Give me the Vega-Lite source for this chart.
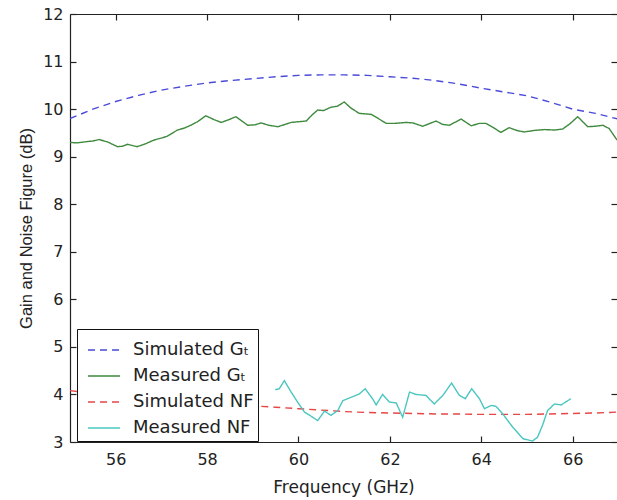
{
  "$schema": "https://vega.github.io/schema/vega-lite/v6.json",
  "width": 547,
  "height": 428,
  "autosize": {"type": "none"},
  "padding": {"left": 70, "top": 14, "right": 0, "bottom": 58},
  "background": "white",
  "config": {
    "view": {"stroke": null},
    "axis": {
      "grid": false,
      "domainColor": "#222222",
      "domainWidth": 1.2,
      "tickColor": "#222222",
      "tickWidth": 1.2,
      "labelColor": "#222222",
      "titleColor": "#222222",
      "titleFontWeight": "normal",
      "labelFont": "DejaVu Sans",
      "labelFontSize": 16
    }
  },
  "data": {
    "values": [
      {"f": 55.0, "v": 9.80, "s": "Simulated Gₜ"},
      {"f": 55.5, "v": 10.00, "s": "Simulated Gₜ"},
      {"f": 56.0, "v": 10.16, "s": "Simulated Gₜ"},
      {"f": 56.5, "v": 10.29, "s": "Simulated Gₜ"},
      {"f": 57.0, "v": 10.40, "s": "Simulated Gₜ"},
      {"f": 57.5, "v": 10.48, "s": "Simulated Gₜ"},
      {"f": 58.0, "v": 10.55, "s": "Simulated Gₜ"},
      {"f": 58.5, "v": 10.60, "s": "Simulated Gₜ"},
      {"f": 59.0, "v": 10.64, "s": "Simulated Gₜ"},
      {"f": 59.5, "v": 10.68, "s": "Simulated Gₜ"},
      {"f": 60.0, "v": 10.71, "s": "Simulated Gₜ"},
      {"f": 60.5, "v": 10.72, "s": "Simulated Gₜ"},
      {"f": 61.0, "v": 10.72, "s": "Simulated Gₜ"},
      {"f": 61.5, "v": 10.71, "s": "Simulated Gₜ"},
      {"f": 62.0, "v": 10.68, "s": "Simulated Gₜ"},
      {"f": 62.5, "v": 10.65, "s": "Simulated Gₜ"},
      {"f": 63.0, "v": 10.60, "s": "Simulated Gₜ"},
      {"f": 63.5, "v": 10.53, "s": "Simulated Gₜ"},
      {"f": 64.0, "v": 10.44, "s": "Simulated Gₜ"},
      {"f": 64.5, "v": 10.36, "s": "Simulated Gₜ"},
      {"f": 65.0, "v": 10.28, "s": "Simulated Gₜ"},
      {"f": 65.5, "v": 10.15, "s": "Simulated Gₜ"},
      {"f": 66.0, "v": 10.00, "s": "Simulated Gₜ"},
      {"f": 66.5, "v": 9.91, "s": "Simulated Gₜ"},
      {"f": 67.0, "v": 9.79, "s": "Simulated Gₜ"},

      {"f": 55.0, "v": 9.30, "s": "Measured Gₜ"},
      {"f": 55.15, "v": 9.29, "s": "Measured Gₜ"},
      {"f": 55.31, "v": 9.31, "s": "Measured Gₜ"},
      {"f": 55.5, "v": 9.33, "s": "Measured Gₜ"},
      {"f": 55.64, "v": 9.36, "s": "Measured Gₜ"},
      {"f": 55.82, "v": 9.31, "s": "Measured Gₜ"},
      {"f": 56.04, "v": 9.21, "s": "Measured Gₜ"},
      {"f": 56.15, "v": 9.22, "s": "Measured Gₜ"},
      {"f": 56.26, "v": 9.26, "s": "Measured Gₜ"},
      {"f": 56.47, "v": 9.21, "s": "Measured Gₜ"},
      {"f": 56.65, "v": 9.27, "s": "Measured Gₜ"},
      {"f": 56.84, "v": 9.35, "s": "Measured Gₜ"},
      {"f": 57.0, "v": 9.39, "s": "Measured Gₜ"},
      {"f": 57.13, "v": 9.43, "s": "Measured Gₜ"},
      {"f": 57.35, "v": 9.56, "s": "Measured Gₜ"},
      {"f": 57.5, "v": 9.60, "s": "Measured Gₜ"},
      {"f": 57.64, "v": 9.66, "s": "Measured Gₜ"},
      {"f": 57.8, "v": 9.74, "s": "Measured Gₜ"},
      {"f": 57.97, "v": 9.86, "s": "Measured Gₜ"},
      {"f": 58.15, "v": 9.78, "s": "Measured Gₜ"},
      {"f": 58.31, "v": 9.72, "s": "Measured Gₜ"},
      {"f": 58.48, "v": 9.78, "s": "Measured Gₜ"},
      {"f": 58.63, "v": 9.84, "s": "Measured Gₜ"},
      {"f": 58.89, "v": 9.66, "s": "Measured Gₜ"},
      {"f": 59.05, "v": 9.67, "s": "Measured Gₜ"},
      {"f": 59.18, "v": 9.71, "s": "Measured Gₜ"},
      {"f": 59.35, "v": 9.66, "s": "Measured Gₜ"},
      {"f": 59.55, "v": 9.63, "s": "Measured Gₜ"},
      {"f": 59.84, "v": 9.72, "s": "Measured Gₜ"},
      {"f": 60.17, "v": 9.75, "s": "Measured Gₜ"},
      {"f": 60.3, "v": 9.88, "s": "Measured Gₜ"},
      {"f": 60.42, "v": 9.98, "s": "Measured Gₜ"},
      {"f": 60.55, "v": 9.97, "s": "Measured Gₜ"},
      {"f": 60.71, "v": 10.04, "s": "Measured Gₜ"},
      {"f": 60.85, "v": 10.06, "s": "Measured Gₜ"},
      {"f": 61.0, "v": 10.15, "s": "Measured Gₜ"},
      {"f": 61.15, "v": 10.02, "s": "Measured Gₜ"},
      {"f": 61.33, "v": 9.91, "s": "Measured Gₜ"},
      {"f": 61.59, "v": 9.89, "s": "Measured Gₜ"},
      {"f": 61.75, "v": 9.80, "s": "Measured Gₜ"},
      {"f": 61.92, "v": 9.70, "s": "Measured Gₜ"},
      {"f": 62.1, "v": 9.70, "s": "Measured Gₜ"},
      {"f": 62.35, "v": 9.72, "s": "Measured Gₜ"},
      {"f": 62.5, "v": 9.71, "s": "Measured Gₜ"},
      {"f": 62.72, "v": 9.64, "s": "Measured Gₜ"},
      {"f": 63.01, "v": 9.75, "s": "Measured Gₜ"},
      {"f": 63.15, "v": 9.68, "s": "Measured Gₜ"},
      {"f": 63.30, "v": 9.66, "s": "Measured Gₜ"},
      {"f": 63.56, "v": 9.79, "s": "Measured Gₜ"},
      {"f": 63.78, "v": 9.65, "s": "Measured Gₜ"},
      {"f": 63.96, "v": 9.70, "s": "Measured Gₜ"},
      {"f": 64.1, "v": 9.70, "s": "Measured Gₜ"},
      {"f": 64.25, "v": 9.62, "s": "Measured Gₜ"},
      {"f": 64.43, "v": 9.51, "s": "Measured Gₜ"},
      {"f": 64.61, "v": 9.61, "s": "Measured Gₜ"},
      {"f": 64.78, "v": 9.55, "s": "Measured Gₜ"},
      {"f": 64.94, "v": 9.52, "s": "Measured Gₜ"},
      {"f": 65.15, "v": 9.55, "s": "Measured Gₜ"},
      {"f": 65.38, "v": 9.57, "s": "Measured Gₜ"},
      {"f": 65.6, "v": 9.56, "s": "Measured Gₜ"},
      {"f": 65.78, "v": 9.58, "s": "Measured Gₜ"},
      {"f": 65.95, "v": 9.70, "s": "Measured Gₜ"},
      {"f": 66.11, "v": 9.84, "s": "Measured Gₜ"},
      {"f": 66.33, "v": 9.63, "s": "Measured Gₜ"},
      {"f": 66.5, "v": 9.64, "s": "Measured Gₜ"},
      {"f": 66.66, "v": 9.66, "s": "Measured Gₜ"},
      {"f": 66.80, "v": 9.59, "s": "Measured Gₜ"},
      {"f": 66.97, "v": 9.35, "s": "Measured Gₜ"},

      {"f": 55.0, "v": 4.08, "s": "Simulated NF"},
      {"f": 55.5, "v": 4.02, "s": "Simulated NF"},
      {"f": 56.0, "v": 3.96, "s": "Simulated NF"},
      {"f": 56.5, "v": 3.91, "s": "Simulated NF"},
      {"f": 57.0, "v": 3.87, "s": "Simulated NF"},
      {"f": 57.5, "v": 3.84, "s": "Simulated NF"},
      {"f": 58.0, "v": 3.81, "s": "Simulated NF"},
      {"f": 58.5, "v": 3.78, "s": "Simulated NF"},
      {"f": 59.0, "v": 3.76, "s": "Simulated NF"},
      {"f": 59.5, "v": 3.73, "s": "Simulated NF"},
      {"f": 60.0, "v": 3.70, "s": "Simulated NF"},
      {"f": 60.5, "v": 3.67, "s": "Simulated NF"},
      {"f": 61.0, "v": 3.64, "s": "Simulated NF"},
      {"f": 61.5, "v": 3.62, "s": "Simulated NF"},
      {"f": 62.0, "v": 3.61, "s": "Simulated NF"},
      {"f": 62.5, "v": 3.60, "s": "Simulated NF"},
      {"f": 63.0, "v": 3.59, "s": "Simulated NF"},
      {"f": 63.5, "v": 3.59, "s": "Simulated NF"},
      {"f": 64.0, "v": 3.58, "s": "Simulated NF"},
      {"f": 64.5, "v": 3.58, "s": "Simulated NF"},
      {"f": 65.0, "v": 3.58, "s": "Simulated NF"},
      {"f": 65.5, "v": 3.59, "s": "Simulated NF"},
      {"f": 66.0, "v": 3.60, "s": "Simulated NF"},
      {"f": 66.5, "v": 3.61, "s": "Simulated NF"},
      {"f": 67.0, "v": 3.63, "s": "Simulated NF"},

      {"f": 59.49, "v": 4.10, "s": "Measured NF"},
      {"f": 59.58, "v": 4.12, "s": "Measured NF"},
      {"f": 59.69, "v": 4.29, "s": "Measured NF"},
      {"f": 59.84, "v": 4.05, "s": "Measured NF"},
      {"f": 59.98, "v": 3.84, "s": "Measured NF"},
      {"f": 60.13, "v": 3.63, "s": "Measured NF"},
      {"f": 60.28, "v": 3.54, "s": "Measured NF"},
      {"f": 60.42, "v": 3.45, "s": "Measured NF"},
      {"f": 60.57, "v": 3.65, "s": "Measured NF"},
      {"f": 60.71, "v": 3.56, "s": "Measured NF"},
      {"f": 60.86, "v": 3.66, "s": "Measured NF"},
      {"f": 60.97, "v": 3.87, "s": "Measured NF"},
      {"f": 61.15, "v": 3.94, "s": "Measured NF"},
      {"f": 61.33, "v": 4.01, "s": "Measured NF"},
      {"f": 61.46, "v": 4.12, "s": "Measured NF"},
      {"f": 61.62, "v": 3.91, "s": "Measured NF"},
      {"f": 61.7, "v": 3.78, "s": "Measured NF"},
      {"f": 61.84, "v": 4.00, "s": "Measured NF"},
      {"f": 61.99, "v": 3.84, "s": "Measured NF"},
      {"f": 62.14, "v": 3.82, "s": "Measured NF"},
      {"f": 62.28, "v": 3.52, "s": "Measured NF"},
      {"f": 62.43, "v": 4.05, "s": "Measured NF"},
      {"f": 62.57, "v": 4.00, "s": "Measured NF"},
      {"f": 62.79, "v": 3.98, "s": "Measured NF"},
      {"f": 62.97, "v": 3.80, "s": "Measured NF"},
      {"f": 63.16, "v": 3.98, "s": "Measured NF"},
      {"f": 63.35, "v": 4.24, "s": "Measured NF"},
      {"f": 63.52, "v": 3.98, "s": "Measured NF"},
      {"f": 63.65, "v": 3.91, "s": "Measured NF"},
      {"f": 63.79, "v": 4.12, "s": "Measured NF"},
      {"f": 63.96, "v": 3.91, "s": "Measured NF"},
      {"f": 64.07, "v": 3.70, "s": "Measured NF"},
      {"f": 64.22, "v": 3.77, "s": "Measured NF"},
      {"f": 64.32, "v": 3.75, "s": "Measured NF"},
      {"f": 64.47, "v": 3.59, "s": "Measured NF"},
      {"f": 64.69, "v": 3.31, "s": "Measured NF"},
      {"f": 64.91, "v": 3.07, "s": "Measured NF"},
      {"f": 65.12, "v": 3.02, "s": "Measured NF"},
      {"f": 65.23, "v": 3.10, "s": "Measured NF"},
      {"f": 65.34, "v": 3.35, "s": "Measured NF"},
      {"f": 65.45, "v": 3.66, "s": "Measured NF"},
      {"f": 65.60, "v": 3.80, "s": "Measured NF"},
      {"f": 65.75, "v": 3.78, "s": "Measured NF"},
      {"f": 65.96, "v": 3.91, "s": "Measured NF"}
    ]
  },
  "layer": [
    {
      "mark": {"type": "line", "clip": true, "strokeWidth": 1.4},
      "encoding": {
        "x": {
          "field": "f", "type": "quantitative",
          "scale": {"domain": [55, 66.97], "nice": false, "zero": false},
          "axis": {
            "orient": "bottom", "values": [56, 58, 60, 62, 64, 66],
            "tickSize": -6, "labelPadding": 15,
            "title": "Frequency (GHz)", "titleFont": "DejaVu Sans", "titleFontSize": 17, "titlePadding": 12
          }
        },
        "y": {
          "field": "v", "type": "quantitative",
          "scale": {"domain": [3, 12], "nice": false, "zero": false},
          "axis": {
            "orient": "left", "values": [3, 4, 5, 6, 7, 8, 9, 10, 11, 12],
            "tickSize": -6, "labelPadding": 13,
            "title": "Gain and Noise Figure (dB)", "titleFont": "Liberation Sans", "titleFontSize": 16.5, "titlePadding": 8
          }
        },
        "color": {
          "field": "s", "type": "nominal",
          "scale": {
            "domain": ["Simulated Gₜ", "Measured Gₜ", "Simulated NF", "Measured NF"],
            "range": ["#4a4ad8", "#3f8a3f", "#e64646", "#4cc6c0"]
          },
          "legend": {
            "title": null, "orient": "none", "legendX": 7, "legendY": 315,
            "strokeColor": "#111111", "fillColor": "white", "padding": 4,
            "labelFont": "DejaVu Sans", "labelFontSize": 18, "labelColor": "#222222",
            "symbolType": "stroke", "symbolSize": 1024, "symbolStrokeWidth": 1.5, "symbolOffset": 6,
            "rowPadding": -1, "labelOffset": 12
          }
        },
        "strokeDash": {
          "field": "s", "type": "nominal",
          "scale": {
            "domain": ["Simulated Gₜ", "Measured Gₜ", "Simulated NF", "Measured NF"],
            "range": [[7, 5], [1, 0], [7, 5], [1, 0]]
          },
          "legend": {
            "title": null, "orient": "none", "legendX": 7, "legendY": 315,
            "strokeColor": "#111111", "fillColor": "white", "padding": 4,
            "labelFont": "DejaVu Sans", "labelFontSize": 18, "labelColor": "#222222",
            "symbolType": "stroke", "symbolSize": 1024, "symbolStrokeWidth": 1.5, "symbolOffset": 6,
            "rowPadding": -1, "labelOffset": 12
          }
        }
      }
    },
    {
      "mark": {"type": "line", "opacity": 0, "clip": true},
      "encoding": {
        "detail": {"field": "s", "type": "nominal"},
        "x": {
          "field": "f", "type": "quantitative",
          "axis": {"orient": "top", "values": [56, 58, 60, 62, 64, 66], "tickSize": -6, "labels": false, "title": null}
        },
        "y": {
          "field": "v", "type": "quantitative",
          "axis": {"orient": "right", "values": [3, 4, 5, 6, 7, 8, 9, 10, 11, 12], "tickSize": -6, "labels": false, "domain": false, "title": null}
        }
      }
    }
  ],
  "resolve": {"axis": {"x": "independent", "y": "independent"}}
}
